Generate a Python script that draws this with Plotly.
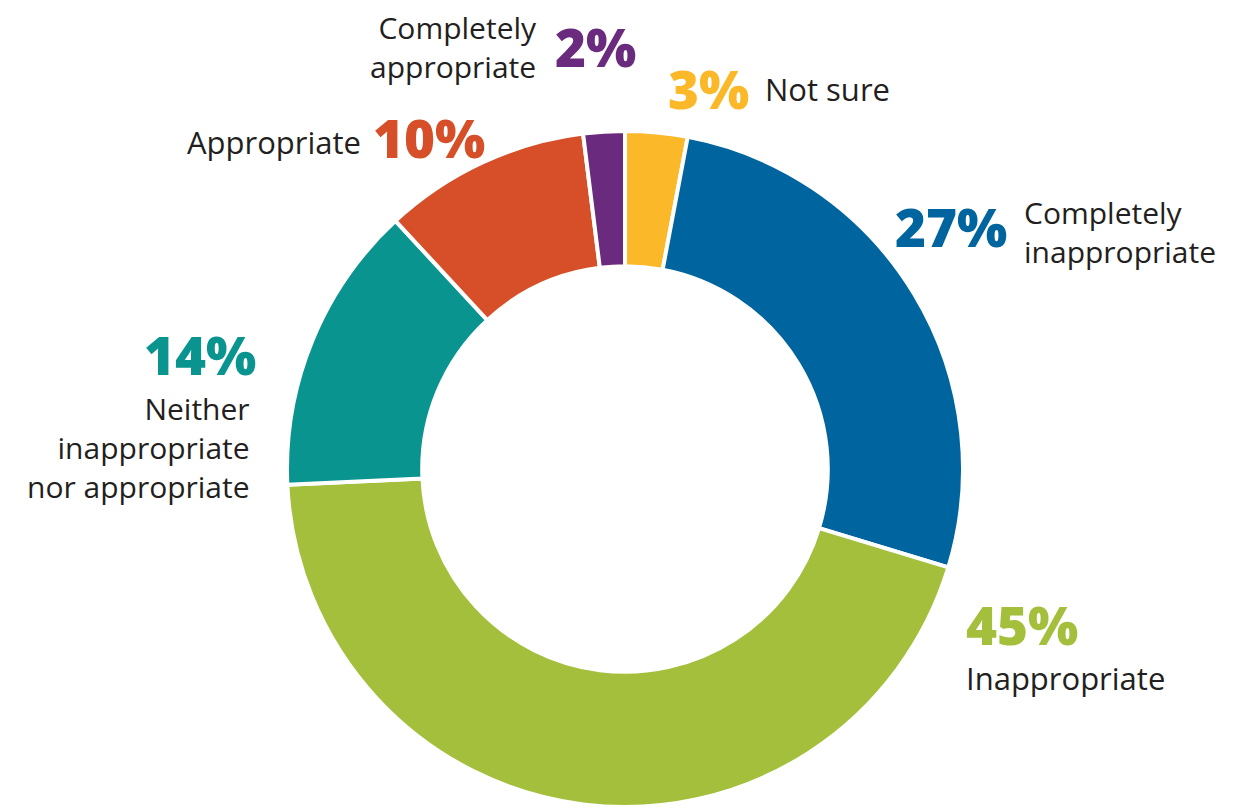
import plotly.graph_objects as go

# Survey responses, clockwise from 12 o'clock
labels = ["Not sure", "Completely inappropriate", "Inappropriate",
          "Neither inappropriate nor appropriate", "Appropriate",
          "Completely appropriate"]
values = [3, 27, 45, 14, 10, 2]
colors = ["#FBB829", "#00649E", "#A3BF3B", "#0A948F", "#D64F28", "#6A2A7E"]

W, H = 1233, 810
TEXT = "#231F20"
FONT = "Open Sans"
LABEL_SIZE = 31
BLOCK_SIZE = 30
PCT_SIZE = 53

fig = go.Figure(go.Pie(
    labels=labels,
    values=values,
    hole=0.6,
    sort=False,
    direction="clockwise",
    rotation=0,
    textinfo="none",
    hoverinfo="label+value",
    marker=dict(colors=colors, line=dict(color="white", width=4)),
    domain=dict(x=[(625 - 338) / W, (625 + 338) / W],
                y=[1 - (469 + 339) / H, 1 - (469 - 339) / H]),
    showlegend=False,
))


def note(text, px, py, xanchor, color=TEXT, size=LABEL_SIZE, bold=False,
         align="left"):
    fig.add_annotation(
        text=text, x=px / W, y=1 - py / H, xref="paper", yref="paper",
        xanchor=xanchor, yanchor="middle", showarrow=False, align=align,
        font=dict(family=FONT, size=size, color=color,
                  weight=800 if bold else 400),
    )


def pct(v):
    return f"{v}%"


# Completely appropriate
note("Completely<br>appropriate", 539, 47, "right", size=BLOCK_SIZE,
     align="right")
note(pct(values[5]), 553, 46, "left", colors[5], PCT_SIZE, True)
# Not sure
note(pct(values[0]), 666, 89, "left", colors[0], PCT_SIZE, True)
note(labels[0], 763, 89, "left")
# Appropriate
note(labels[4], 363, 142, "right")
note(pct(values[4]), 371, 137, "left", colors[4], PCT_SIZE, True)
# Completely inappropriate
note(pct(values[1]), 893, 226, "left", colors[1], PCT_SIZE, True)
note("Completely<br>inappropriate", 1022, 232, "left", size=BLOCK_SIZE)
# Neither
note(pct(values[3]), 258, 354, "right", colors[3], PCT_SIZE, True)
note("Neither<br>inappropriate<br>nor appropriate", 252, 448, "right",
     size=BLOCK_SIZE, align="right")
# Inappropriate
note(pct(values[2]), 964, 624, "left", colors[2], PCT_SIZE, True)
note(labels[2], 964, 678, "left")

fig.update_layout(
    width=W, height=H,
    margin=dict(l=0, r=0, t=0, b=0),
    paper_bgcolor="white",
    plot_bgcolor="white",
)

fig.write_html("out.html")
